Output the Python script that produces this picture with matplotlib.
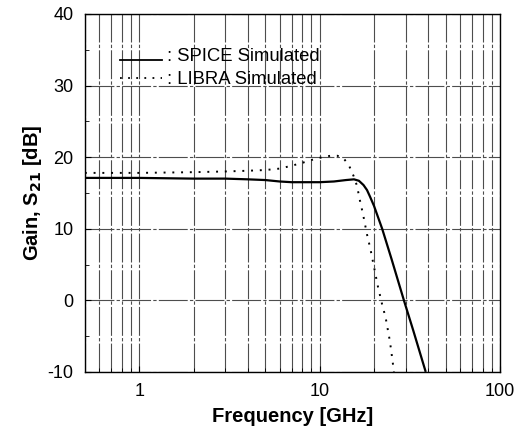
import numpy as np
import matplotlib
matplotlib.use('Agg')
import matplotlib.pyplot as plt
from matplotlib.ticker import LogLocator, MultipleLocator, FixedLocator, FixedFormatter

plt.rcParams['font.family'] = ['Liberation Sans', 'DejaVu Sans']
plt.rcParams['axes.unicode_minus'] = False

# SPICE simulated gain (GHz, dB)
spice_f = [0.5, 0.7, 1, 2, 3, 4, 5, 6, 7, 8, 10, 12, 14, 15.5, 16.5, 17.5, 18.3, 19, 20, 22.2, 25, 29.3, 33, 38.7]
spice_db = [17.1, 17.1, 17.1, 17.0, 17.0, 16.9, 16.8, 16.6, 16.5, 16.5, 16.5, 16.6, 16.8, 16.9, 16.7, 16.1, 15.4, 14.5, 13.2, 10.0, 5.8, 0.0, -4.2, -10.0]

# LIBRA simulated gain (GHz, dB)
libra_f = [0.5, 1, 2, 3, 4, 5, 6, 7, 8, 9, 10, 11.5, 12.5, 13.5, 14.5, 15.4, 16.1, 16.7, 17.4, 18.3, 19.1, 20.1, 21, 22.2, 23.2, 24.5, 25.3, 25.8]
libra_db = [17.8, 17.8, 17.9, 18.0, 18.1, 18.2, 18.4, 18.8, 19.2, 19.6, 19.9, 20.2, 20.2, 19.9, 18.9, 17.4, 16.0, 14.0, 12.0, 9.2, 7.2, 4.4, 2.0, -0.6, -2.4, -5.7, -8.3, -10.0]

fig = plt.figure(figsize=(5.27, 4.37), dpi=100)
ax = fig.add_axes([0.161, 0.149, 0.788, 0.819])

dots = (0, (1, 3.5))
ax.plot(spice_f, spice_db, color='black', lw=1.6, solid_capstyle='butt')
ax.plot(libra_f, libra_db, color='black', lw=1.4, linestyle=dots)

ax.set_xscale('log')
ax.set_xlim(0.5, 100)
ax.set_ylim(-10, 40)

ax.xaxis.set_major_locator(FixedLocator([1, 10, 100]))
ax.xaxis.set_major_formatter(FixedFormatter(['1', '10', '100']))
ax.xaxis.set_minor_locator(LogLocator(base=10, subs=np.arange(2, 10)))
ax.xaxis.set_minor_formatter(FixedFormatter([]))
ax.yaxis.set_major_locator(MultipleLocator(10))
ax.yaxis.set_minor_locator(MultipleLocator(5))

gstyle = dict(color='0.3', lw=0.8, linestyle=(0, (26, 2, 3, 2)))
ax.grid(True, which='major', axis='both', **gstyle)
ax.grid(True, which='minor', axis='x', **gstyle)

ax.tick_params(which='both', direction='in', labelsize=13)
ax.tick_params(which='major', length=4, pad=8)
ax.tick_params(which='minor', length=3)
for s in ax.spines.values():
    s.set_linewidth(1.0)

ax.set_xlabel('Frequency [GHz]', fontsize=14.5, fontweight='bold', labelpad=5)
ax.set_ylabel('Gain, S$_\\mathbf{21}$ [dB]', fontsize=14.5, fontweight='bold', labelpad=3)

# legend drawn as in the original: short sample + ": label"
ax.plot([0.78, 1.33], [33.6, 33.6], color='black', lw=1.3)
ax.plot([0.78, 1.33], [31.0, 31.0], color='black', lw=1.3, linestyle=dots)
ax.text(1.42, 34.1, ': SPICE Simulated', fontsize=13.3, va='center', ha='left')
ax.text(1.42, 30.9, ': LIBRA Simulated', fontsize=13.3, va='center', ha='left')

fig.savefig('out.png', dpi=100)
